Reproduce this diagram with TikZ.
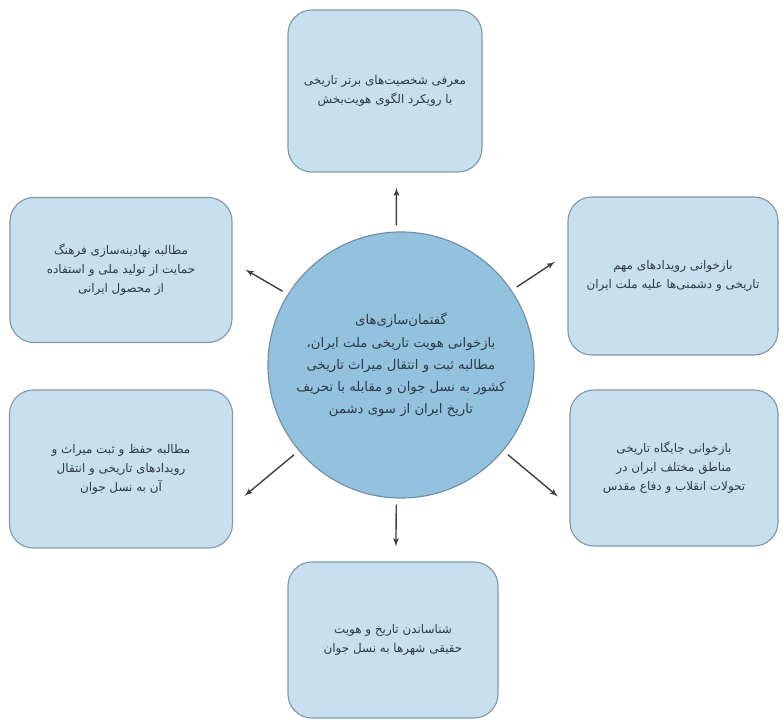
\documentclass[tikz,border=0pt]{standalone}
\usepackage{fontspec}
\newfontfamily\arabicfont[Script=Arabic]{DejaVu Sans}
\TeXXeTstate=1
\usetikzlibrary{arrows}
\definecolor{boxfill}{HTML}{C6E0EF}
\definecolor{boxline}{HTML}{8796A3}
\definecolor{hubfill}{HTML}{92C2DE}
\definecolor{hubline}{HTML}{6F8EA3}
\definecolor{txt}{HTML}{2E3A45}
\newcommand{\fa}[1]{\beginR #1\endR}

\begin{document}
\begin{tikzpicture}
[x=0.025cm,y=-0.025cm,
%
topic/.style={shape=rectangle,rounded corners=0.6cm,draw=boxline,fill=boxfill,line width=0.8pt,
  align=center,text=txt,inner sep=0pt,font=\arabicfont\fontsize{8.5}{13.5}\selectfont},
hub/.style={shape=circle,draw=hubline,fill=hubfill,line width=0.8pt,minimum size=6.65cm,
  align=center,text=txt,inner sep=0pt,font=\arabicfont\fontsize{9.4}{15.8}\selectfont},
%
dedge/.style={->,draw=black!75,>=latex',shorten >=0.375cm,shorten <=0.15cm,line width=1pt}]
%
\useasboundingbox (0,0) rectangle (783,722);
%
% centre
\node (discourse) [hub] at (401,365)
{\fa{گفتمان^^^^200cسازی^^^^200cهای}\\
 \fa{بازخوانی هویت تاریخی ملت ایران،}\\
 \fa{مطالبه ثبت و انتقال میراث تاریخی}\\
 \fa{کشور به نسل جوان و مقابله با تحریف}\\
 \fa{تاریخ ایران از سوی دشمن}};
%
% boxes
\node (figures) [topic,minimum width=4.85cm,minimum height=4.05cm] at (385,91)
{\fa{معرفی شخصیت^^^^200cهای برتر تاریخی}\\
 \fa{با رویکرد الگوی هویت^^^^200cبخش}};
\node (events) [topic,minimum width=5.25cm,minimum height=3.95cm] at (673,276)
{\fa{بازخوانی رویدادهای مهم}\\
 \fa{تاریخی و دشمنی^^^^200cها علیه ملت ایران}};
\node (regions) [topic,minimum width=5.2cm,minimum height=3.9cm] at (674,468)
{\fa{بازخوانی جایگاه تاریخی}\\
 \fa{مناطق مختلف ایران در}\\
 \fa{تحولات انقلاب و دفاع مقدس}};
\node (cities) [topic,minimum width=5.25cm,minimum height=3.9cm] at (393,640)
{\fa{شناساندن تاریخ و هویت}\\
 \fa{حقیقی شهرها به نسل جوان}};
\node (heritage) [topic,minimum width=5.575cm,minimum height=3.95cm] at (121,469)
{\fa{مطالبه حفظ و ثبت میراث و}\\
 \fa{رویدادهای تاریخی و انتقال}\\
 \fa{آن به نسل جوان}};
\node (product) [topic,minimum width=5.55cm,minimum height=3.625cm] at (121,270)
{\fa{مطالبه نهادینه^^^^200cسازی فرهنگ}\\
 \fa{حمایت از تولید ملی و استفاده}\\
 \fa{از محصول ایرانی}};
%
% arrows
\foreach \s/\t in {92/figures.278,34/events.168,-40/regions.200,268/cities.88,220/heritage.342,148/product.4}
\draw[dedge] (discourse.\s) -- (\t);
\end{tikzpicture}
\end{document}
